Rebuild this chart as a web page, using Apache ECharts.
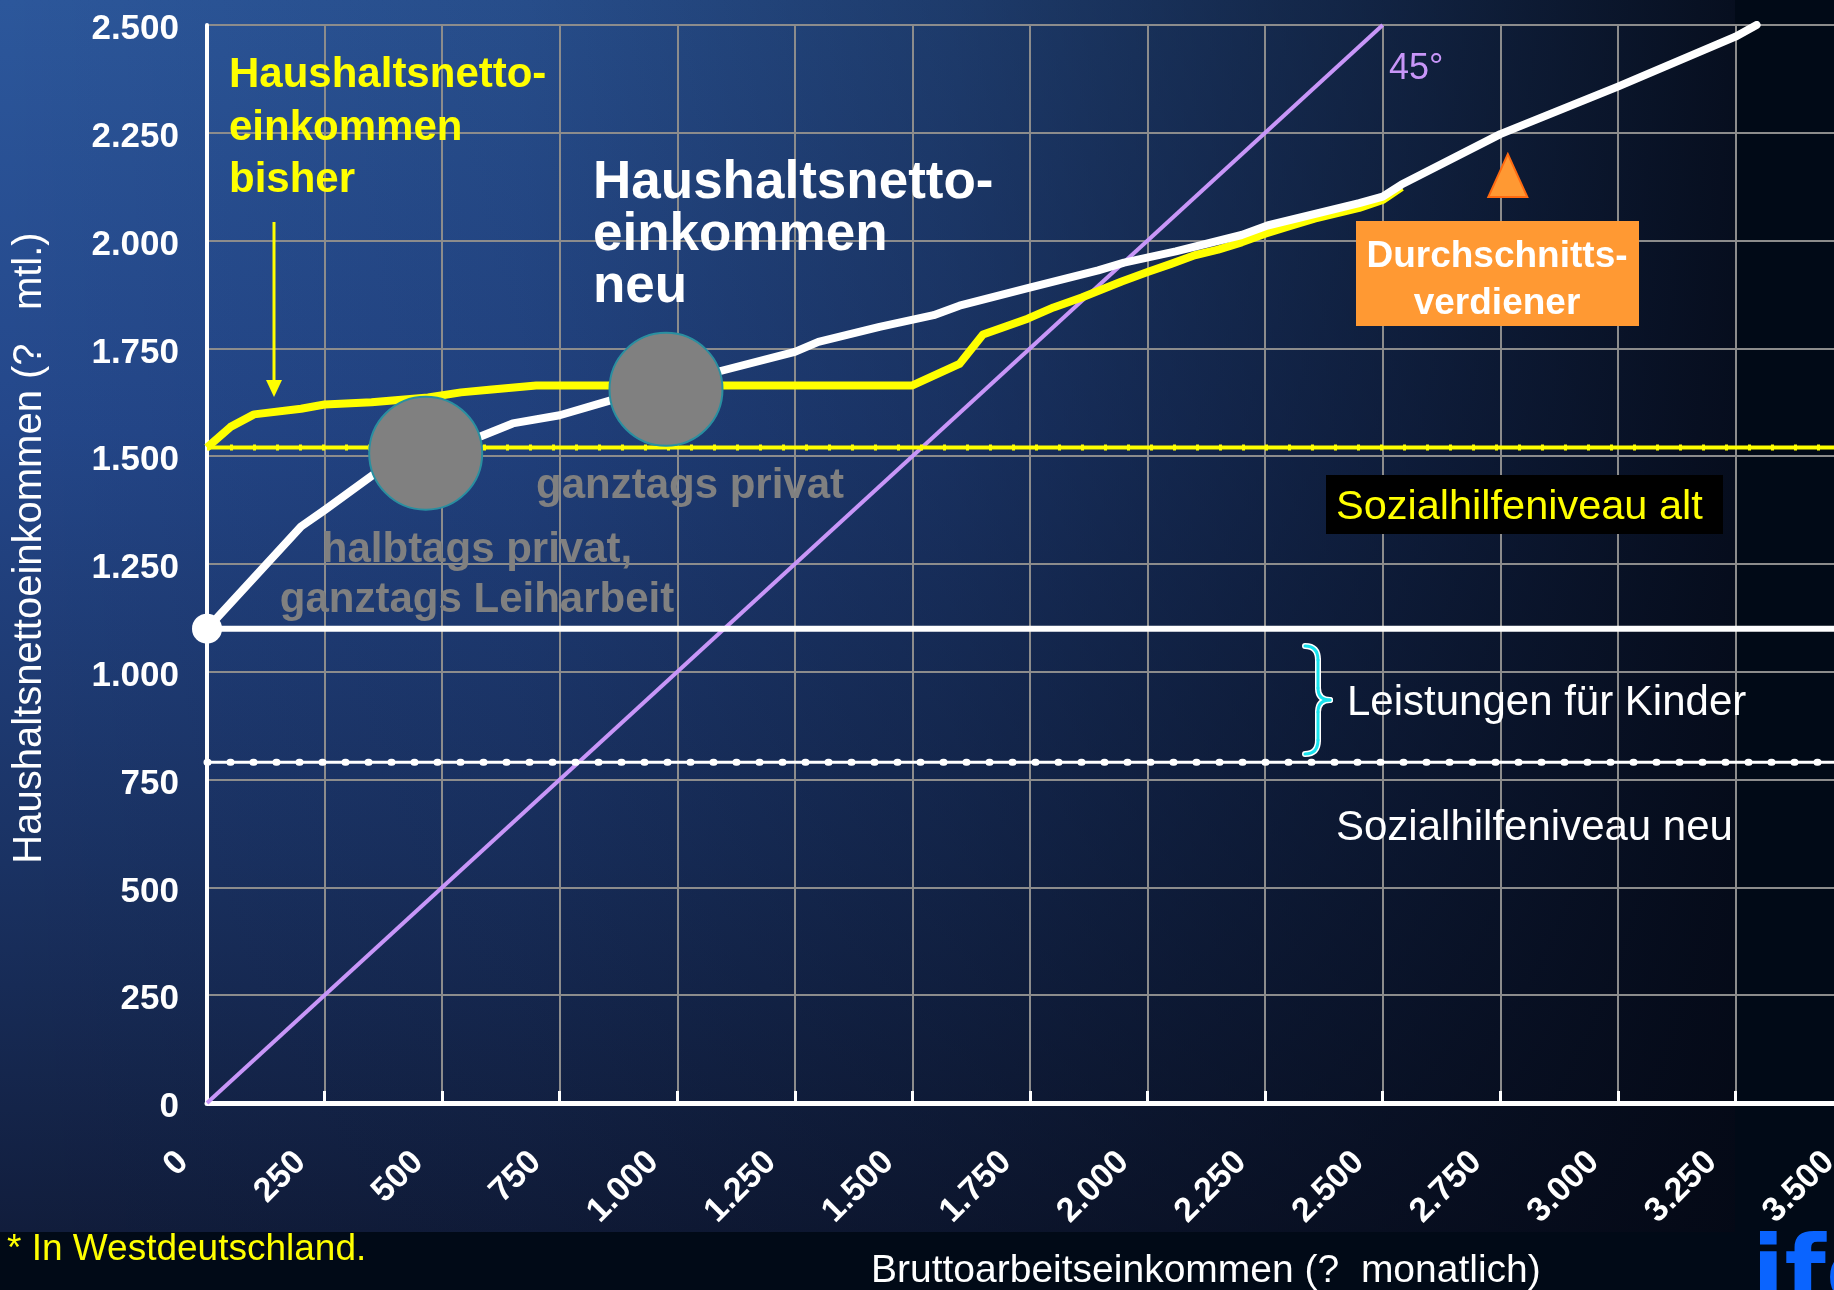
<!DOCTYPE html>
<html>
<head>
<meta charset="utf-8">
<script src="https://cdn.jsdelivr.net/npm/echarts@6/dist/echarts.min.js"></script>
<style>
  html, body { margin: 0; padding: 0; background: #010a17; overflow: hidden; }
  #slide { position: absolute; left: 0; top: 0; width: 1834px; height: 1290px; background: #010a17; }
  #pic {
    position: absolute; left: 0; top: 0; width: 1735px; height: 1232px;
    background:
      linear-gradient(to right, rgba(3,7,18,0) 0%, rgba(3,7,18,0.12) 30%, rgba(3,7,18,0.35) 55%, rgba(3,7,18,0.65) 80%, rgba(3,7,18,0.9) 100%),
      linear-gradient(to bottom, #2c579b 0%, #24478a 35%, #1a3263 70%, #111d3c 100%);
  }
  #chart { position: absolute; left: 0; top: 0; width: 1834px; height: 1290px; }
</style>
</head>
<body>
<div id="slide"><div id="pic"></div></div>
<div id="chart"></div>
<script>
const xTickLabels = ["0", "250", "500", "750", "1.000", "1.250", "1.500", "1.750", "2.000", "2.250", "2.500", "2.750", "3.000", "3.250", "3.500"];
const yTickLabels = ["0", "250", "500", "750", "1.000", "1.250", "1.500", "1.750", "2.000", "2.250", "2.500"];

// 45 degree line (netto = brutto)
const degree45 = [[0, 0], [2500, 2500]];

// Haushaltsnettoeinkommen bisher (yellow)
const nettoBisher = [
  [0, 1520], [50, 1568], [100, 1597], [200, 1610], [250, 1620], [350, 1625],
  [470, 1636], [540, 1648], [600, 1654], [700, 1664], [1500, 1664], [1600, 1714],
  [1650, 1782], [1745, 1819], [1800, 1845], [1860, 1868], [1945, 1905], [2000, 1927],
  [2050, 1946], [2100, 1966], [2150, 1979], [2200, 1996], [2250, 2016], [2300, 2033],
  [2355, 2051], [2450, 2076], [2500, 2094], [2540, 2124]
];

// Haushaltsnettoeinkommen neu (white)
const nettoNeu = [
  [0, 1100], [200, 1337], [250, 1375], [360, 1462], [580, 1545], [650, 1576],
  [750, 1595], [860, 1630], [1090, 1697], [1250, 1742], [1300, 1765], [1430, 1800],
  [1545, 1827], [1600, 1849], [1745, 1890], [1895, 1931], [1950, 1949], [2060, 1975],
  [2200, 2013], [2255, 2035], [2450, 2087], [2500, 2102], [2540, 2130], [2750, 2247],
  [3000, 2357], [3250, 2473], [3295, 2500]
];

// horizontal levels
const sozialhilfeAlt = [[0, 1520], [3500, 1520]];
const kinderLevel = [[0, 1100], [3500, 1100]];
const sozialhilfeNeu = [[0, 790], [3500, 790]];

// markers
const jobPoints = [[465, 1507], [976, 1655]];
const startPoint = [[0, 1100]];
const averageEarner = [[2766, 2151]];

const FONT = "'Liberation Sans', Arial, sans-serif";

const chart = echarts.init(document.getElementById("chart"), null, { renderer: "canvas" });

const txt = (x, y, text, opts) => ({
  type: "text",
  x: x,
  y: y,
  rotation: opts.rotation || 0,
  z: 100,
  style: {
    text: text,
    fill: opts.color || "#fff",
    fontSize: opts.size,
    fontWeight: opts.bold ? "bold" : "normal",
    fontFamily: FONT,
    lineHeight: opts.lh || opts.size,
    align: opts.align || "left",
    verticalAlign: "middle"
  }
});

// curly brace made of lines and quadratic curves
const brace = (stroke, width, z) => {
  const st = { stroke: stroke, lineWidth: width, fill: null, lineCap: "round" };
  return [
    { type: "bezierCurve", z: z, shape: { x1: 1305, y1: 646, cpx1: 1318, cpy1: 646, x2: 1318, y2: 660 }, style: st },
    { type: "line", z: z, shape: { x1: 1318, y1: 660, x2: 1318, y2: 688 }, style: st },
    { type: "bezierCurve", z: z, shape: { x1: 1318, y1: 688, cpx1: 1318, cpy1: 700, x2: 1330, y2: 700 }, style: st },
    { type: "bezierCurve", z: z, shape: { x1: 1330, y1: 700, cpx1: 1318, cpy1: 700, x2: 1318, y2: 712 }, style: st },
    { type: "line", z: z, shape: { x1: 1318, y1: 712, x2: 1318, y2: 740 }, style: st },
    { type: "bezierCurve", z: z, shape: { x1: 1318, y1: 740, cpx1: 1318, cpy1: 754, x2: 1305, y2: 754 }, style: st }
  ];
};

const option = {
  animation: false,
  backgroundColor: "transparent",
  tooltip: { show: false },
  grid: { left: 207, top: 25, width: 1646, height: 1078, outerBoundsMode: "none" },
  xAxis: [
    {
      type: "value",
      min: 0,
      max: 3500,
      interval: 250,
      axisLine: { show: true, onZero: false, lineStyle: { color: "#ffffff", width: 5 } },
      axisTick: { show: true, inside: true, length: 12, lineStyle: { color: "#ffffff", width: 3 } },
      splitLine: { show: true, lineStyle: { color: "#8c8c8c", width: 2 } },
      axisLabel: {
        rotate: 45,
        margin: 30,
        padding: [0, 34, 0, 0],
        color: "#ffffff",
        fontSize: 34,
        fontWeight: "bold",
        fontFamily: FONT,
        formatter: (v) => xTickLabels[Math.round(v / 250)]
      }
    },
    {
      type: "value",
      position: "top",
      min: 0,
      max: 3500,
      axisLine: { show: true, lineStyle: { color: "#ffffff", width: 4 } },
      axisTick: { show: false },
      axisLabel: { show: false },
      splitLine: { show: false }
    }
  ],
  yAxis: {
    type: "value",
    min: 0,
    max: 2500,
    interval: 250,
    axisLine: { show: true, lineStyle: { color: "#ffffff", width: 4 } },
    axisTick: { show: false },
    splitLine: { show: true, lineStyle: { color: "#8c8c8c", width: 2 } },
    axisLabel: {
      margin: 28,
      verticalAlign: "top",
      lineHeight: 9,
      color: "#ffffff",
      fontSize: 35,
      fontWeight: "bold",
      fontFamily: FONT,
      formatter: (v) => yTickLabels[Math.round(v / 250)]
    }
  },
  series: [
    {
      type: "line", data: degree45, showSymbol: false, silent: true, z: 2,
      lineStyle: { color: "#c896f8", width: 4 }
    },
    {
      type: "line", data: sozialhilfeNeu, showSymbol: false, silent: true, z: 3,
      lineStyle: { color: "#ffffff", width: 3 }
    },
    {
      type: "line", data: sozialhilfeNeu, showSymbol: false, silent: true, z: 3,
      lineStyle: { color: "#ffffff", width: 7, type: [1, 22], cap: "round" }
    },
    {
      type: "line", data: kinderLevel, showSymbol: false, silent: true, z: 3,
      lineStyle: { color: "#ffffff", width: 6 }
    },
    {
      type: "line", data: sozialhilfeAlt, showSymbol: false, silent: true, z: 3,
      lineStyle: { color: "#ffff00", width: 4 }
    },
    {
      type: "line", data: sozialhilfeAlt, showSymbol: false, silent: true, z: 3,
      lineStyle: { color: "#ffff00", width: 6, type: [3, 20] }
    },
    {
      type: "line", data: nettoBisher, showSymbol: false, silent: true, z: 5,
      lineStyle: { color: "#ffff00", width: 8, join: "round" }
    },
    {
      type: "line", data: nettoNeu, showSymbol: false, silent: true, z: 6,
      lineStyle: { color: "#ffffff", width: 8, join: "round", cap: "round" }
    },
    {
      type: "scatter", data: jobPoints, silent: true, z: 8, symbolSize: 113,
      itemStyle: { color: "#808080", borderColor: "#2a8fa0", borderWidth: 2, opacity: 1 }
    },
    {
      type: "scatter", data: startPoint, silent: true, z: 8, symbolSize: 30,
      itemStyle: { color: "#ffffff", opacity: 1 }
    },
    {
      type: "scatter", data: averageEarner, silent: true, z: 8, symbol: "triangle", symbolSize: [39, 43],
      itemStyle: { color: "#ff9933", borderColor: "#ff6a10", borderWidth: 2, opacity: 1 }
    }
  ],
  graphic: [
    // axis names
    txt(30, 548, "Haushaltsnettoeinkommen (?   mtl.)", { size: 40, align: "center", rotation: Math.PI / 2 }),
    txt(871, 1271, "Bruttoarbeitseinkommen (?  monatlich)", { size: 39 }),
    txt(7, 1250, "* In Westdeutschland.", { size: 37, color: "#ffff00" }),

    // headings
    txt(229, 128, "Haushaltsnetto-\neinkommen\nbisher", { size: 42, bold: true, color: "#ffff00", lh: 52.5 }),
    txt(593, 235, "Haushaltsnetto-\neinkommen\nneu", { size: 53, bold: true, lh: 52 }),

    // arrow
    { type: "line", z: 100, shape: { x1: 274, y1: 222, x2: 274, y2: 384 }, style: { stroke: "#ffff00", lineWidth: 3 } },
    { type: "polygon", z: 100, shape: { points: [[266, 380], [282, 380], [274, 397]] }, style: { fill: "#ffff00" } },

    // gray labels
    txt(536, 486, "ganztags privat", { size: 42, bold: true, color: "#808080" }),
    txt(477, 575, "halbtags privat,\nganztags Leiharbeit", { size: 42, bold: true, color: "#808080", align: "center", lh: 50 }),

    // 45 degree
    txt(1389, 69, "45°", { size: 36, color: "#c896f8" }),

    // Durchschnittsverdiener box
    { type: "rect", z: 99, shape: { x: 1356, y: 221, width: 283, height: 105 }, style: { fill: "#ff9933" } },
    txt(1497, 280, "Durchschnitts-\nverdiener", { size: 37, bold: true, align: "center", lh: 46.6 }),

    // Sozialhilfeniveau alt box
    { type: "rect", z: 99, shape: { x: 1326, y: 475, width: 397, height: 59 }, style: { fill: "#000000" } },
    txt(1336, 508, "Sozialhilfeniveau alt", { size: 41.5, color: "#ffff00" }),

    // brace + Leistungen
    ...brace("#ffffff", 6, 100),
    ...brace("#19e3ee", 3, 101),
    txt(1347, 703, "Leistungen für Kinder", { size: 42 }),
    txt(1336, 828, "Sozialhilfeniveau neu", { size: 42 }),

    // logo corner
    {
      type: "text", x: 1752, y: 1278, z: 100,
      style: { text: "ifo", fill: "#0a64ff", fontSize: 95, fontWeight: 900, fontFamily: "'DejaVu Sans', sans-serif", verticalAlign: "middle" }
    }
  ]
};

chart.setOption(option);
</script>
</body>
</html>
